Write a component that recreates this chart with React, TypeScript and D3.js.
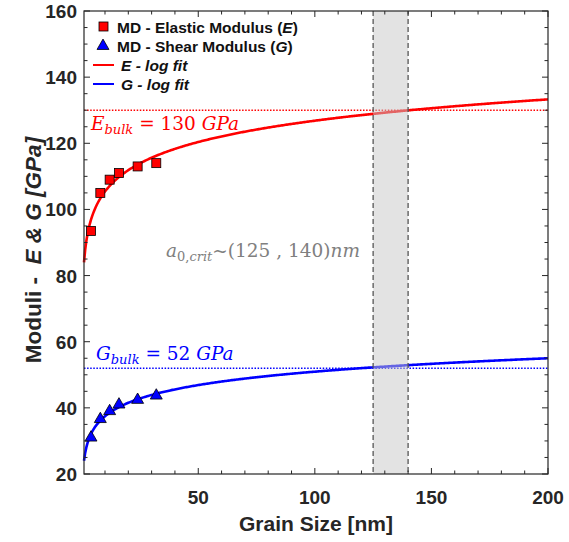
import React from 'react';
import * as d3 from 'd3';

// MD results
const grainSizes = [4, 8, 12, 16, 24, 32];
const elasticMD = [93.5, 105, 109, 111, 113, 114];
const shearMD = [31, 36.6, 39, 41, 42.4, 43.7];

// log fit coefficients: y = a + b ln(x)
const eFit = { a: 84, b: 9.3 };
const gFit = { a: 24, b: 5.85 };

const eBulk = 130;
const gBulk = 52;
const critBand = [125, 140];

const xTickLabels = [50, 100, 150, 200];
const yTickLabels = [20, 40, 60, 80, 100, 120, 140, 160];

const W = 569;
const H = 542;
const M = { left: 84, right: 548, top: 11, bottom: 474 };
const AXIS = '#262626';
const SANS = '"Liberation Sans", Arial, Helvetica, sans-serif';
const SERIF = '"DejaVu Serif", serif';

const App = () => {
  const x = d3.scaleLinear().domain([1, 200]).range([M.left, M.right]);
  const y = d3.scaleLinear().domain([20, 160]).range([M.bottom, M.top]);

  const fitX = d3.range(1, 200.5, 0.5);
  const line = d3.line<number>().x(d => x(d[0])).y(d => y(d[1])) as any;
  const fitPath = (f: { a: number; b: number }) =>
    line(fitX.map(v => [v, f.a + f.b * Math.log(v)]));

  const xMinor = d3.range(10, 200, 10).filter(v => v % 50 !== 0);
  const yMinor = d3.range(20, 160, 5).filter(v => v % 20 !== 0);

  const tri = d3.symbol().type(d3.symbolTriangle).size(62)() as string;

  return (
    <svg width={W} height={H} style={{ position: 'absolute', left: 0, top: 0, background: '#fff' }}>
      {/* fit curves */}
      <path d={fitPath(eFit)} fill="none" stroke="#ff0000" strokeWidth={2.6} />
      <path d={fitPath(gFit)} fill="none" stroke="#0000ff" strokeWidth={2.6} />

      {/* bulk reference lines */}
      <line x1={M.left} x2={M.right} y1={y(eBulk)} y2={y(eBulk)} stroke="#ff0000" strokeWidth={1.5} strokeDasharray="1.5,1.6" />
      <line x1={M.left} x2={M.right} y1={y(gBulk)} y2={y(gBulk)} stroke="#0000ff" strokeWidth={1.5} strokeDasharray="1.5,1.6" />

      {/* critical band */}
      <rect x={x(critBand[0])} y={M.top} width={x(critBand[1]) - x(critBand[0])} height={M.bottom - M.top} fill="#c8c8c8" opacity={0.5} />
      {critBand.map(v => (
        <line key={v} x1={x(v)} x2={x(v)} y1={M.top} y2={M.bottom} stroke="#555" strokeWidth={1.3} strokeDasharray="5,3" />
      ))}

      {/* MD markers */}
      {grainSizes.map((g, i) => (
        <rect key={'e' + i} x={x(g) - 4.5} y={y(elasticMD[i]) - 4.5} width={9} height={9} fill="#ff0000" stroke="#000" strokeWidth={0.8} />
      ))}
      {grainSizes.map((g, i) => (
        <path key={'g' + i} d={tri} transform={`translate(${x(g)},${y(shearMD[i])})`} fill="#0000ff" stroke="#000" strokeWidth={0.8} />
      ))}

      {/* axes box and ticks */}
      <rect x={M.left} y={M.top} width={M.right - M.left} height={M.bottom - M.top} fill="none" stroke={AXIS} strokeWidth={1.2} />
      {xMinor.map(v => (
        <g key={'xm' + v} stroke={AXIS} strokeWidth={1}>
          <line x1={x(v)} x2={x(v)} y1={M.bottom} y2={M.bottom - 3.5} />
          <line x1={x(v)} x2={x(v)} y1={M.top} y2={M.top + 3.5} />
        </g>
      ))}
      {xTickLabels.map(v => (
        <g key={'xt' + v}>
          <line x1={x(v)} x2={x(v)} y1={M.bottom} y2={M.bottom - 6} stroke={AXIS} />
          <line x1={x(v)} x2={x(v)} y1={M.top} y2={M.top + 6} stroke={AXIS} />
          <text x={x(v)} y={504} textAnchor="middle" fontFamily={SANS} fontWeight="bold" fontSize={19} fill={AXIS}>{v}</text>
        </g>
      ))}
      {yMinor.map(v => (
        <g key={'ym' + v} stroke={AXIS} strokeWidth={1}>
          <line x1={M.left} x2={M.left + 3.5} y1={y(v)} y2={y(v)} />
          <line x1={M.right} x2={M.right - 3.5} y1={y(v)} y2={y(v)} />
        </g>
      ))}
      {yTickLabels.map(v => (
        <g key={'yt' + v}>
          <line x1={M.left} x2={M.left + 6} y1={y(v)} y2={y(v)} stroke={AXIS} />
          <line x1={M.right} x2={M.right - 6} y1={y(v)} y2={y(v)} stroke={AXIS} />
          <text x={77} y={y(v) + 7} textAnchor="end" fontFamily={SANS} fontWeight="bold" fontSize={19} fill={AXIS}>{v}</text>
        </g>
      ))}

      {/* axis titles */}
      <text x={316} y={531} textAnchor="middle" fontFamily={SANS} fontWeight="bold" fontSize={21} fill={AXIS}>Grain Size [nm]</text>
      <text transform="translate(41,250) rotate(-90)" textAnchor="middle" fontFamily={SANS} fontWeight="bold" fontSize={22.5} fill={AXIS}>
        Moduli -{'\u00a0\u00a0'}<tspan fontStyle="italic">E &amp; G [GPa]</tspan>
      </text>

      {/* legend */}
      <g fontFamily={SANS} fontWeight="bold" fontSize={15.5} fill="#111">
        <rect x={99} y={22} width={9} height={9} fill="#ff0000" stroke="#000" strokeWidth={0.8} />
        <text x={117} y={33}>MD - Elastic Modulus (<tspan fontStyle="italic">E</tspan>)</text>
        <path d={tri} transform="translate(103,46)" fill="#0000ff" stroke="#000" strokeWidth={0.8} />
        <text x={117} y={52}>MD - Shear Modulus (<tspan fontStyle="italic">G</tspan>)</text>
        <line x1={93} x2={114} y1={65} y2={65} stroke="#ff0000" strokeWidth={2} />
        <text x={121} y={71} fontStyle="italic">E - log fit</text>
        <line x1={93} x2={114} y1={84} y2={84} stroke="#0000ff" strokeWidth={2} />
        <text x={121} y={90} fontStyle="italic">G - log fit</text>
      </g>

      {/* annotations */}
      <text x={91} y={130} fontFamily={SERIF} fontSize={18.5} fill="#ff0000">
        <tspan fontStyle="italic">E</tspan>
        <tspan fontStyle="italic" fontSize={13} dy={4}>bulk</tspan>
        <tspan dy={-4}> = 130 </tspan>
        <tspan fontStyle="italic">GPa</tspan>
      </text>
      <text x={96} y={360} fontFamily={SERIF} fontSize={18.5} fill="#0000ff">
        <tspan fontStyle="italic">G</tspan>
        <tspan fontStyle="italic" fontSize={13} dy={4}>bulk</tspan>
        <tspan dy={-4}> = 52 </tspan>
        <tspan fontStyle="italic">GPa</tspan>
      </text>
      <text x={166} y={257} fontFamily={SERIF} fontSize={18.5} fill="#808080">
        <tspan fontStyle="italic">a</tspan>
        <tspan fontSize={13} dy={4}>0,<tspan fontStyle="italic">crit</tspan></tspan>
        <tspan dy={-4}>~(125 , 140)</tspan>
        <tspan fontStyle="italic">nm</tspan>
      </text>
    </svg>
  );
};

export default App;
